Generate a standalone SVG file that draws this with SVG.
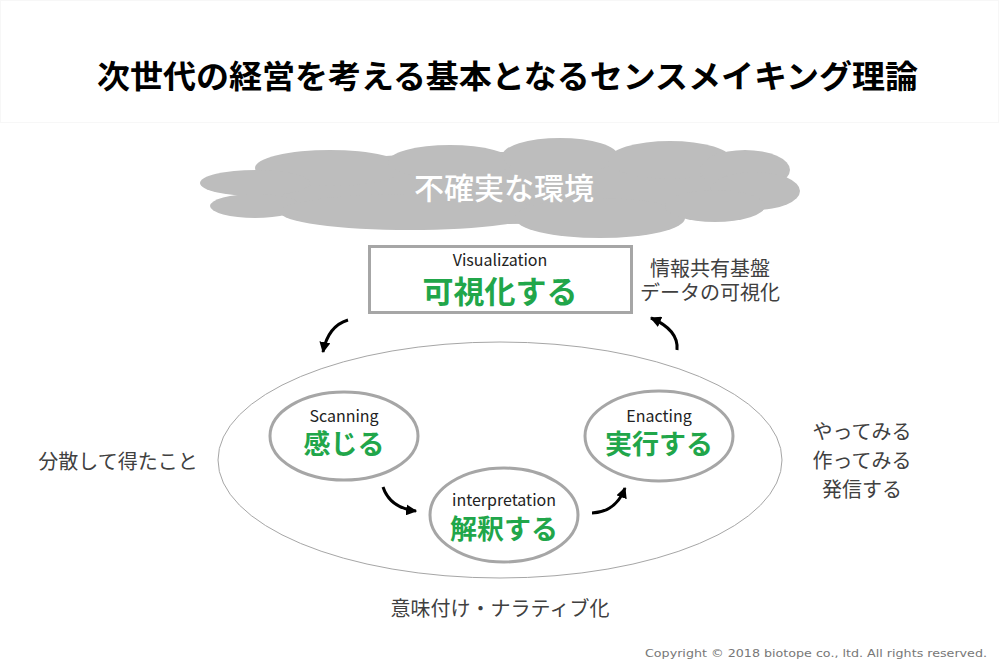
<svg xmlns="http://www.w3.org/2000/svg" width="1000" height="666" viewBox="0 0 1000 666">
<style>
.jp{font-family:"Noto Sans CJK JP","Noto Sans",sans-serif;}
.title{font-size:32px;font-weight:bold;fill:#000;}
.cloudtxt{font-size:30px;fill:#fff;font-weight:500;}
.en{font-size:16px;fill:#222;}
.green{font-weight:bold;fill:#21a64a;}
.side{font-size:20px;fill:#404040;}
.node{fill:#fff;stroke:#a6a6a6;stroke-width:3;}
.arrow{fill:none;stroke:#000;stroke-width:3;marker-end:url(#ah);}
.cloud ellipse{fill:#bdbdbd;}
</style>
<defs>
<marker id="ah" viewBox="0 0 10 10" refX="9" refY="5" markerWidth="11" markerHeight="11" markerUnits="userSpaceOnUse" orient="auto">
<path d="M0,0 L10,5 L0,10 Z" fill="#000"/>
</marker>
</defs>
<rect x="0" y="0" width="1000" height="666" fill="#fff"/>
<rect x="0.5" y="0.5" width="998" height="122" fill="none" stroke="#f7f7f7" stroke-width="1"/>
<g id="title">
<text class="jp title" x="97" y="88" textLength="821" lengthAdjust="spacingAndGlyphs">次世代の経営を考える基本となるセンスメイキング理論</text>
</g>
<g id="cloud" class="cloud">
<ellipse cx="500" cy="188" rx="250" ry="36"/>
<ellipse cx="330" cy="168" rx="75" ry="18"/>
<ellipse cx="450" cy="162" rx="62" ry="17"/>
<ellipse cx="560" cy="156" rx="58" ry="18"/>
<ellipse cx="670" cy="160" rx="62" ry="19"/>
<ellipse cx="745" cy="170" rx="45" ry="20"/>
<ellipse cx="755" cy="191" rx="45" ry="19"/>
<ellipse cx="255" cy="183" rx="55" ry="13"/>
<ellipse cx="255" cy="206" rx="45" ry="12"/>
<ellipse cx="410" cy="212" rx="130" ry="18"/>
<ellipse cx="600" cy="218" rx="85" ry="20"/>
<ellipse cx="715" cy="206" rx="50" ry="16"/>
<text class="jp cloudtxt" x="504" y="199" text-anchor="middle" font-size="31">不確実な環境</text>
</g>
<g id="visualization">
<rect x="369.5" y="246.5" width="262" height="66" fill="#fff" stroke="#a6a6a6" stroke-width="3"/>
<text class="jp en" x="500" y="266" text-anchor="middle">Visualization</text>
<text class="jp green" x="500" y="303" text-anchor="middle" font-size="31">可視化する</text>
</g>
<g id="vis-note">
<text class="jp side" x="710" y="276" text-anchor="middle" font-size="18">情報共有基盤</text>
<text class="jp side" x="710" y="300" text-anchor="middle" font-size="18">データの可視化</text>
</g>
<g id="outer">
<ellipse cx="500" cy="460" rx="282" ry="118" fill="none" stroke="#a6a6a6" stroke-width="1"/>
</g>
<g id="scanning">
<ellipse class="node" cx="344" cy="436" rx="74" ry="44"/>
<text class="jp en" x="344" y="422" text-anchor="middle">Scanning</text>
<text class="jp green" x="344" y="454" text-anchor="middle" font-size="27">感じる</text>
</g>
<g id="interpretation">
<ellipse class="node" cx="504" cy="515" rx="74" ry="47"/>
<text class="jp en" x="504" y="506" text-anchor="middle">interpretation</text>
<text class="jp green" x="504" y="539" text-anchor="middle" font-size="27">解釈する</text>
</g>
<g id="enacting">
<ellipse class="node" cx="659" cy="436" rx="74" ry="45"/>
<text class="jp en" x="659" y="422" text-anchor="middle">Enacting</text>
<text class="jp green" x="659" y="454" text-anchor="middle" font-size="27">実行する</text>
</g>
<g id="left-note">
<text class="jp side" x="118" y="469" text-anchor="middle" font-size="21">分散して得たこと</text>
</g>
<g id="right-note">
<text class="jp side" x="862" y="439" text-anchor="middle">やってみる</text>
<text class="jp side" x="862" y="468" text-anchor="middle">作ってみる</text>
<text class="jp side" x="862" y="497" text-anchor="middle">発信する</text>
</g>
<g id="bottom-note">
<text class="jp side" x="500" y="616" text-anchor="middle" font-size="21.5">意味付け・ナラティブ化</text>
</g>
<g id="connectors">
<path class="arrow" d="M348,320 Q328,326 323,352"/>
<path class="arrow" d="M677,350 Q679,330 651,318"/>
<path class="arrow" d="M383,487 Q390,508 416,511"/>
<path class="arrow" d="M592,513 Q616,512 625,488"/>
</g>
<text x="987" y="657" text-anchor="end" font-family="DejaVu Sans, Verdana, sans-serif" font-size="11" fill="#777" textLength="342" lengthAdjust="spacingAndGlyphs">Copyright © 2018 biotope co., ltd. All rights reserved.</text>
</svg>
